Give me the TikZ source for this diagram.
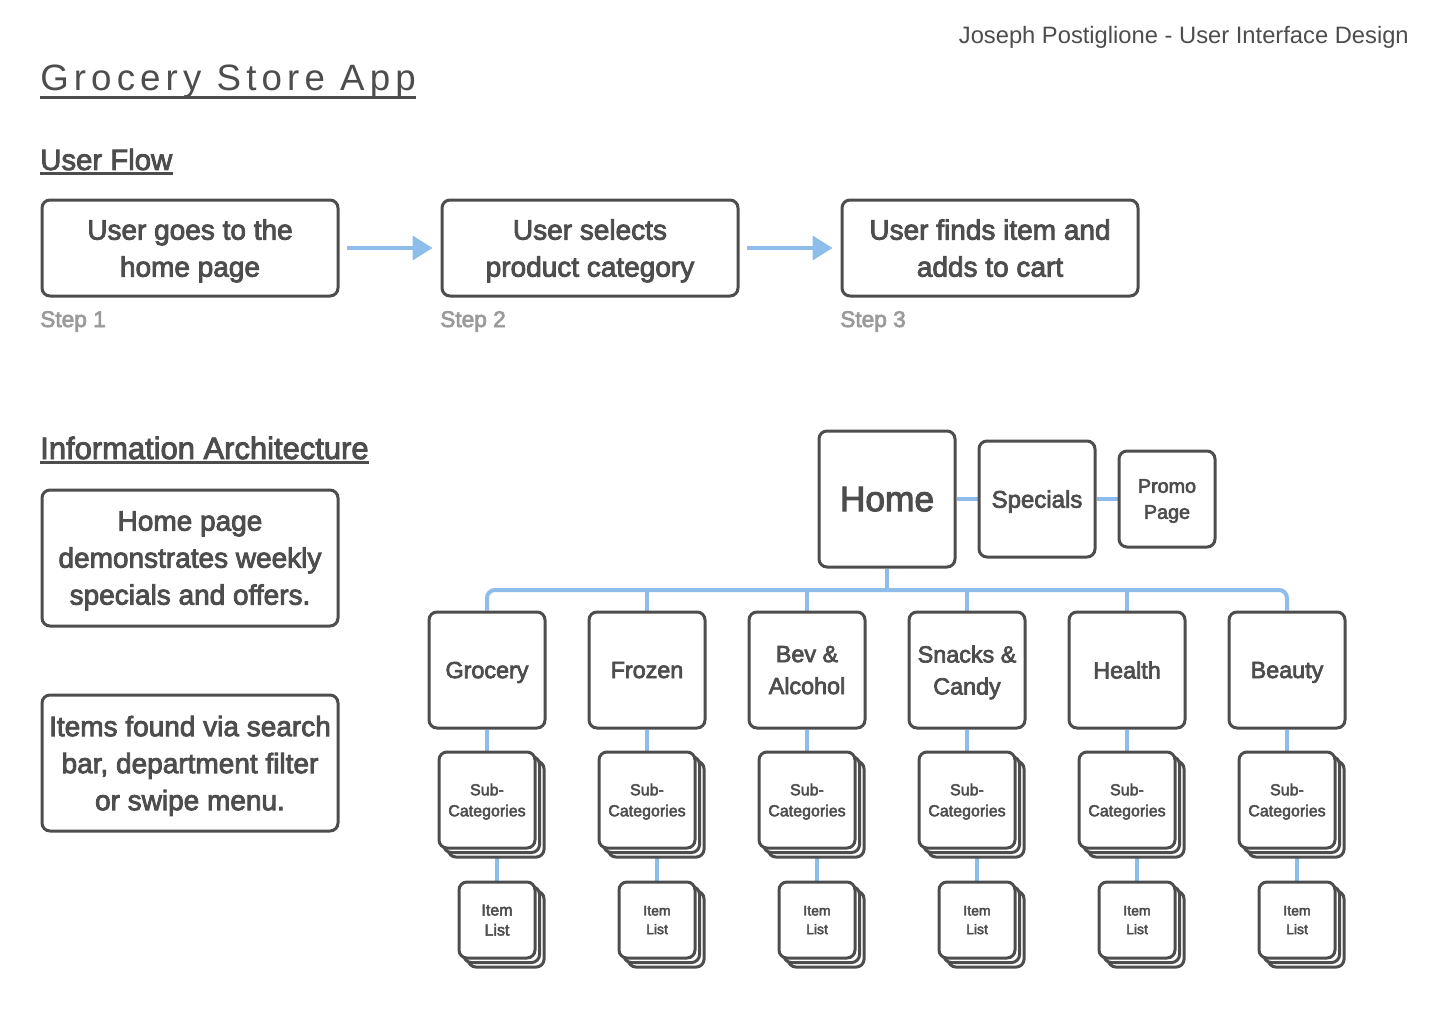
\documentclass[tikz,border=0pt]{standalone}
\usepackage{fontspec}
\setmainfont{Liberation Sans}
\newfontfamily\med[FakeBold=3]{Liberation Sans}
\newfontfamily\ttl[LetterSpace=14]{Liberation Sans}
\usetikzlibrary{arrows.meta,shadows}
\definecolor{txt}{HTML}{4D4D4D}
\definecolor{boxc}{HTML}{4D4D4D}
\definecolor{linkc}{HTML}{8EBDEC}
\definecolor{steptxt}{HTML}{9A9A9A}
\newdimen\PX \PX=0.75pt
\pgfdeclarelayer{back}\pgfdeclarelayer{bg}\pgfsetlayers{back,bg,main}
\newcommand\fsz[2]{\fontsize{#1}{#2}\selectfont}
\begin{document}
\begin{tikzpicture}[x=0.75pt,y=-0.75pt,
  box/.style={draw=boxc,line width=2.25pt,rounded corners=6pt,fill=white,align=center,inner sep=0pt,text=txt,text depth=0pt},
  flowbox/.style={box,minimum width=296\PX,minimum height=#1,font=\med\fsz{21}{27.75}},
  stack/.style={double copy shadow={shadow xshift=3.4pt,shadow yshift=-3.4pt}},
  link/.style={draw=linkc,line width=3pt},
  arr/.style={link,-{Triangle[length=15pt,width=18pt]}},
  head/.style={anchor=base west,inner sep=0pt,text=txt},
  steplab/.style={anchor=base west,inner sep=0pt,text=steptxt,font=\med\fsz{17}{20}}]
\begin{pgfonlayer}{back}
\fill[white] (0,0) rectangle (1440,1024);
\end{pgfonlayer}
\useasboundingbox (0,0) rectangle (1440,1024);

% header texts
\node[anchor=base east,inner sep=0pt,text=txt,font=\fsz{17.8}{20}] (hdr) at (1409,44) {Joseph Postiglione - User Interface Design};
\node[head,font=\ttl\fsz{27.5}{30}] (title) at (40,91) {Grocery Store App};
\draw[boxc,line width=2pt] ([yshift=-4.8pt]title.base west) -- ([yshift=-4.8pt]title.base east);
\node[head,font=\med\fsz{22}{26}] (uf) at (40,170) {User Flow};
\draw[boxc,line width=2pt] ([yshift=-2.6pt]uf.base west) -- ([yshift=-2.6pt]uf.base east);
\node[head,font=\med\fsz{23.2}{26}] (ia) at (40,459) {Information Architecture};
\draw[boxc,line width=2pt] ([yshift=-2.6pt]ia.base west) -- ([yshift=-2.6pt]ia.base east);

% user flow
\node[flowbox=96\PX] (f1) at (190,248) {User goes to the\\home page};
\node[flowbox=96\PX] (f2) at (590,248) {User selects\\product category};
\node[flowbox=96\PX] (f3) at (990,248) {User finds item and\\adds to cart};
\node[steplab] (st1) at (40,327) {Step 1};
\node[steplab] (st2) at (440,327) {Step 2};
\node[steplab] (st3) at (840,327) {Step 3};
\draw[arr] ([xshift=5.25pt]f1.east) -- ([xshift=-6pt]f2.west);
\draw[arr] ([xshift=5.25pt]f2.east) -- ([xshift=-6pt]f3.west);

% info boxes
\node[flowbox=136\PX] (i1) at (190,558) {Home page\\demonstrates weekly\\specials and offers.};
\node[flowbox=136\PX] (i2) at (190,763) {Items found via search\\bar, department filter\\or swipe menu.};

% IA tree
\node[box,minimum size=136\PX,font=\med\fsz{26.5}{30}] (home) at (887,499) {Home};
\node[box,minimum size=116\PX,font=\med\fsz{18}{22}] (spec) at (1037,499) {Specials};
\node[box,minimum size=96\PX,font=\med\fsz{14.8}{19.5}] (promo) at (1167,499) {Promo\\Page};
\coordinate (bus) at (887,590);

\foreach \i/\lab/\isz/\isp in {1/Grocery/12/15, 2/Frozen/10.5/14, 3/{Bev \&\\Alcohol}/10.5/14, 4/{Snacks \&\\Candy}/10.5/14, 5/Health/10.5/14, 6/Beauty/10.5/14}{
  \pgfmathsetmacro\cx{487+160*(\i-1)}
  \node[box,minimum size=116\PX,font=\med\fsz{17.5}{24}] (c\i) at (\cx,670) {\lab};
  \node[box,stack,minimum size=96\PX,font=\med\fsz{12}{15.75}] (s\i) at (\cx,800) {Sub-\\Categories};
  \node[box,stack,minimum size=76\PX,font=\med\fsz{\isz}{\isp}] (l\i) at (\cx+10,920) {Item\\List};
  \begin{pgfonlayer}{bg}
    \draw[link] (c\i.south) -- (s\i.north);
    \draw[link] (l\i.north) -- (l\i.north |- s\i.south);
  \end{pgfonlayer}
}
\begin{pgfonlayer}{bg}
  \draw[link] (home.east) -- (spec.west);
  \draw[link] (spec.east) -- (promo.west);
  \draw[link] (home.south) -- (bus);
  \draw[link,rounded corners=6pt] (c1.north) -- (c1.north |- bus) -- (c6.north |- bus) -- (c6.north);
  \foreach \i in {2,...,5}{\draw[link] (c\i.north) -- (c\i.north |- bus);}
\end{pgfonlayer}
\end{tikzpicture}
\end{document}
